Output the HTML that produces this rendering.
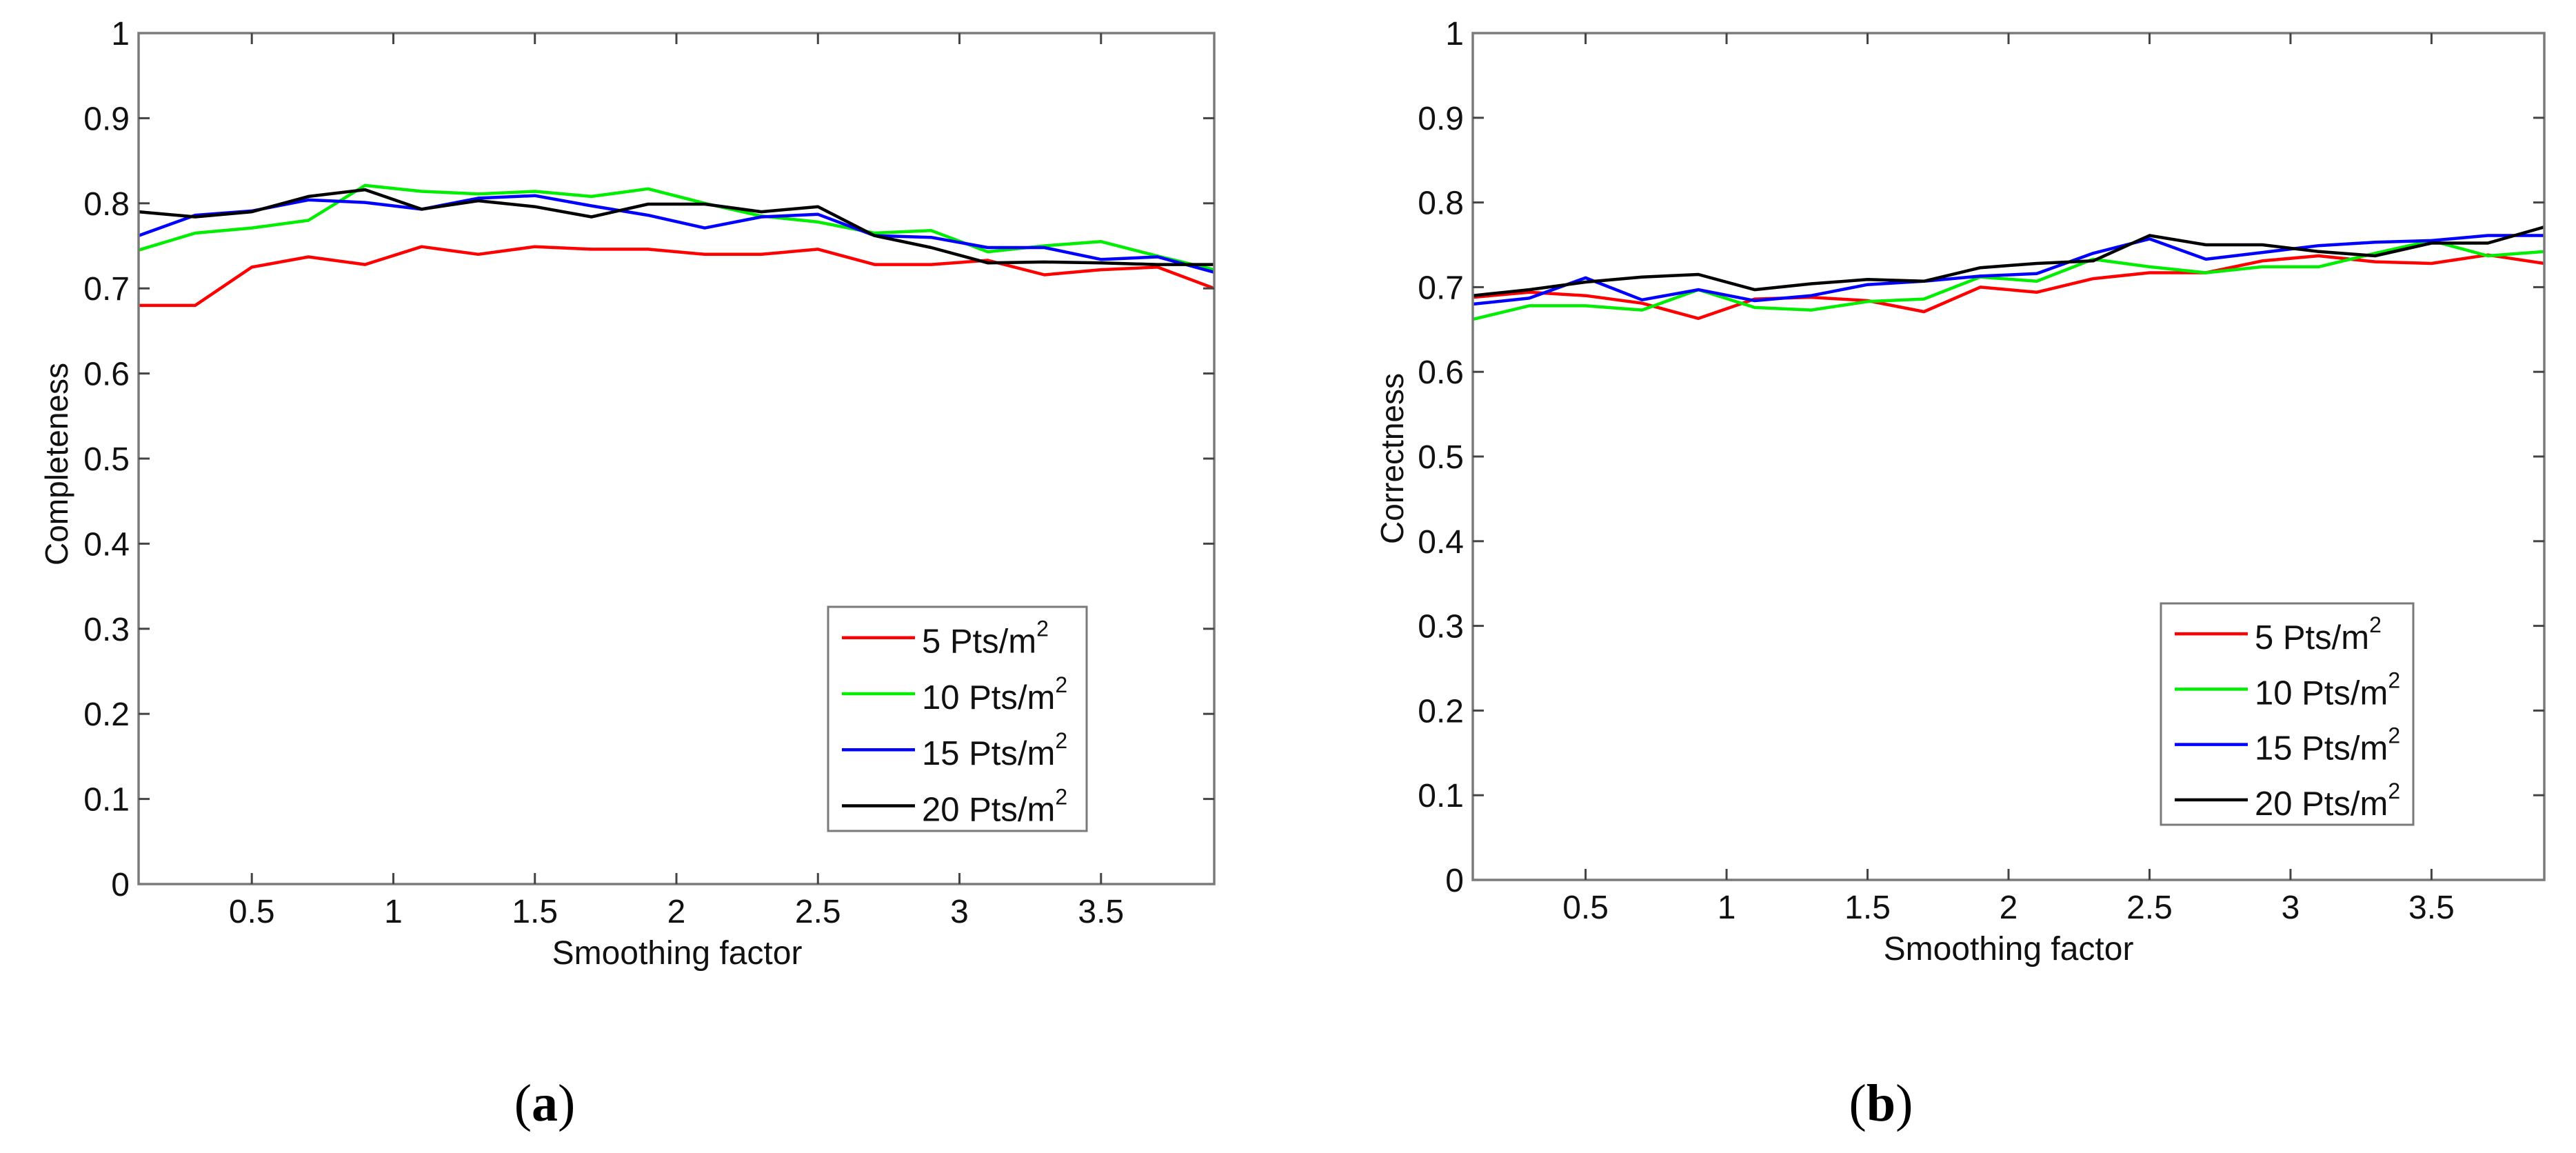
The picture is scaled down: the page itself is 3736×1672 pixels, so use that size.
<!DOCTYPE html>
<html><head><meta charset="utf-8"><style>
html,body{margin:0;padding:0;background:#fff;}
svg{display:block;font-family:"Liberation Sans",Arial,sans-serif;}
</style></head><body>
<svg id="fig" width="3736" height="1672" viewBox="0 0 3736 1672" xmlns="http://www.w3.org/2000/svg">
<rect width="3736" height="1672" fill="#fff"/>
</svg>
<script>
const xValues = [0.1,0.3,0.5,0.7,0.9,1.1,1.3,1.5,1.7,1.9,2.1,2.3,2.5,2.7,2.9,3.1,3.3,3.5,3.7,3.9];
const xTicks = [0.5,1,1.5,2,2.5,3,3.5];
const xTickLabels = ["0.5","1","1.5","2","2.5","3","3.5"];
const yTicks = [0,0.1,0.2,0.3,0.4,0.5,0.6,0.7,0.8,0.9,1];
const yTickLabels = ["0","0.1","0.2","0.3","0.4","0.5","0.6","0.7","0.8","0.9","1"];
const seriesNames = ["5","10","15","20"];
const seriesColors = ["#ff0000","#00ee00","#0000ff","#000000"];
const aRed = [0.68,0.68,0.725,0.737,0.728,0.749,0.740,0.749,0.746,0.746,0.740,0.740,0.746,0.728,0.728,0.733,0.716,0.722,0.725,0.700];
const aGreen = [0.745,0.765,0.771,0.780,0.821,0.814,0.811,0.814,0.808,0.817,0.800,0.785,0.778,0.765,0.768,0.743,0.750,0.755,0.738,0.722];
const aBlue = [0.762,0.786,0.791,0.804,0.801,0.793,0.806,0.809,0.797,0.786,0.771,0.784,0.787,0.762,0.760,0.748,0.748,0.734,0.737,0.719];
const aBlack = [0.790,0.784,0.790,0.808,0.816,0.793,0.803,0.796,0.784,0.799,0.799,0.790,0.796,0.762,0.748,0.730,0.731,0.730,0.728,0.728];
const bRed = [0.688,0.694,0.690,0.681,0.663,0.686,0.688,0.684,0.671,0.700,0.694,0.710,0.717,0.717,0.731,0.737,0.730,0.728,0.738,0.728];
const bGreen = [0.662,0.678,0.678,0.673,0.697,0.676,0.673,0.683,0.686,0.712,0.707,0.733,0.724,0.717,0.724,0.724,0.740,0.755,0.737,0.742];
const bBlue = [0.680,0.687,0.711,0.685,0.697,0.684,0.690,0.703,0.707,0.713,0.716,0.740,0.757,0.733,0.741,0.749,0.753,0.755,0.761,0.761];
const bBlack = [0.690,0.697,0.706,0.712,0.715,0.697,0.704,0.709,0.707,0.723,0.728,0.731,0.761,0.750,0.750,0.742,0.737,0.752,0.752,0.771];

const NS = "http://www.w3.org/2000/svg";
const svg = document.getElementById('fig');
function mk(tag, attrs, parent, text) {
  const e = document.createElementNS(NS, tag);
  for (const k in attrs) e.setAttribute(k, attrs[k]);
  if (text !== undefined) e.textContent = text;
  (parent || svg).appendChild(e);
  return e;
}
function panel(id, box, ylabel, ylabelPos, xlabelPos, legendBox, caption, captionX, data) {
  const g = mk('g', {});
  
  
  const xs = v => box.l + (v - 0.1) / 3.8 * (box.r - box.l);
  const ys = v => box.b - v * (box.b - box.t);
  // series
  data.forEach((arr, si) => {
    const pts = arr.map((v, i) => xs(xValues[i]).toFixed(1) + ',' + ys(v).toFixed(1)).join(' ');
    const pl = mk('polyline', {points: pts, fill: 'none', stroke: seriesColors[si], 'stroke-width': 4.5, 'stroke-linejoin': 'round'}, g);
    
    
  });
  // box
  const fr = mk('rect', {x: box.l, y: box.t, width: box.r - box.l, height: box.b - box.t, fill: 'none', stroke: '#7a7a7a', 'stroke-width': 3.5}, g);
  
  
  // x ticks
  xTicks.forEach((t, i) => {
    const x = xs(t);
    mk('line', {x1: x, y1: box.b, x2: x, y2: box.b - 16, stroke: '#444', 'stroke-width': 3}, g);
    mk('line', {x1: x, y1: box.t, x2: x, y2: box.t + 16, stroke: '#444', 'stroke-width': 3}, g);
    const tl = mk('text', {x: x, y: box.b + 56, 'font-size': 48, 'text-anchor': 'middle', fill: '#111'}, g, xTickLabels[i]);
    
    
  });
  yTicks.forEach((t, i) => {
    const y = ys(t);
    if (i > 0 && i < yTicks.length - 1) {
      mk('line', {x1: box.l, y1: y, x2: box.l + 16, y2: y, stroke: '#444', 'stroke-width': 3}, g);
      mk('line', {x1: box.r, y1: y, x2: box.r - 16, y2: y, stroke: '#444', 'stroke-width': 3}, g);
    }
    const tl = mk('text', {x: box.l - 13, y: y + 17, 'font-size': 48, 'text-anchor': 'end', fill: '#111'}, g, yTickLabels[i]);
    
    
  });
  const yl = mk('text', {x: 0, y: 0, 'font-size': 46, 'text-anchor': 'middle', fill: '#111', transform: 'translate(' + ylabelPos[0] + ',' + ylabelPos[1] + ') rotate(-90)'}, g, ylabel);
  
  
  const xl = mk('text', {x: xlabelPos[0], y: xlabelPos[1], 'font-size': 48, 'text-anchor': 'middle', fill: '#111'}, g, 'Smoothing factor');
  
  
  // legend
  const lg = mk('g', {}, g);
  
  
  mk('rect', {x: legendBox.l, y: legendBox.t, width: legendBox.r - legendBox.l, height: legendBox.b - legendBox.t, fill: '#fff', stroke: '#7a7a7a', 'stroke-width': 3}, lg);
  const rowH = (legendBox.b - legendBox.t) / 4;
  seriesNames.forEach((n, i) => {
    const cy = legendBox.t + rowH * (i + 0.55);
    const e = mk('g', {}, lg);
    
    
    mk('line', {x1: legendBox.l + 20, y1: cy, x2: legendBox.l + 126, y2: cy, stroke: seriesColors[i], 'stroke-width': 4.5}, e);
    const t = mk('text', {x: legendBox.l + 136, y: cy + 22, 'font-size': 49, fill: '#111'}, e);
    mk('tspan', {}, t, n + ' Pts/m');
    mk('tspan', {'font-size': 32, dy: -24}, t, '2');
  });
  const cap = mk('text', {x: captionX, y: 1625, 'font-size': 76, 'text-anchor': 'middle', fill: '#000', 'font-family': '"Liberation Serif", serif'}, g);
  
  
  mk('tspan', {}, cap, '(');
  mk('tspan', {'font-weight': 'bold'}, cap, caption);
  mk('tspan', {}, cap, ')');
}
panel('completeness-chart', {l: 201, r: 1761, t: 48, b: 1282}, 'Completeness', [98, 673], [982, 1398],
  {l: 1201, r: 1576, t: 880, b: 1205}, 'a', 790, [aRed, aGreen, aBlue, aBlack]);
panel('correctness-chart', {l: 2136, r: 3690, t: 48, b: 1276}, 'Correctness', [2035, 665], [2913, 1392],
  {l: 3134, r: 3500, t: 875, b: 1196}, 'b', 2728, [bRed, bGreen, bBlue, bBlack]);
</script>
</body></html>
